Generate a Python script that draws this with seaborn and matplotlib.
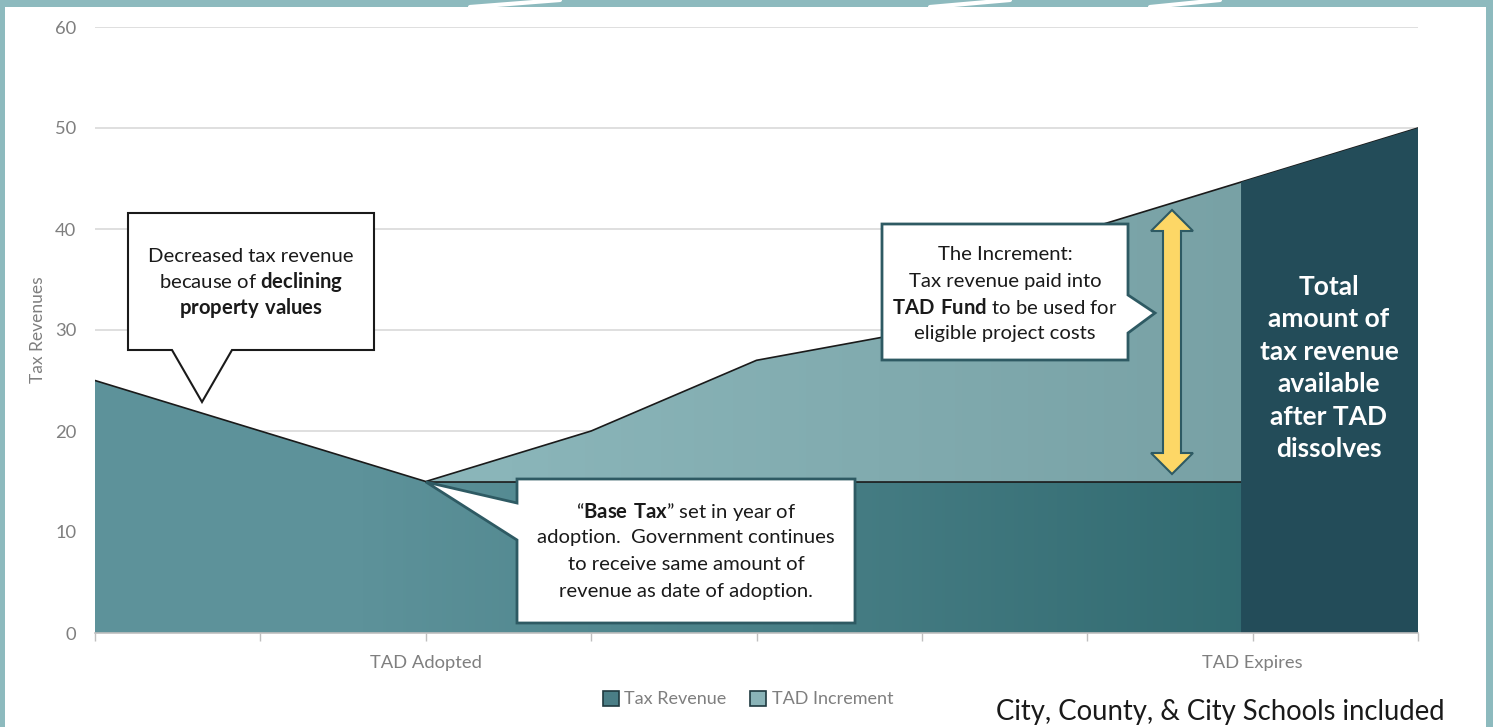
import numpy as np
import matplotlib
matplotlib.use("Agg")
import matplotlib.pyplot as plt
from matplotlib.patches import Polygon, Rectangle, Patch
from matplotlib.colors import LinearSegmentedColormap
import seaborn as sns

# ---------------- data ----------------
periods = list(range(9))
x_labels = ["", "", "TAD Adopted", "", "", "", "", "TAD Expires", ""]
tax_revenue = [25, 20, 15, 15, 15, 15, 15, 15, 15]
tad_increment = [0, 0, 0, 5, 12, 15, 25, 30, 35]
y_ticks = [0, 10, 20, 30, 40, 50, 60]
series_names = ["Tax Revenue", "TAD Increment"]
after_tad_start = 6.93  # where the "after TAD dissolves" column begins

# ---------------- style ----------------
sns.set_theme(style="white")
plt.rcParams["font.family"] = ["Lato", "DejaVu Sans"]
plt.rcParams["mathtext.fontset"] = "custom"
plt.rcParams["mathtext.rm"] = "Lato"
plt.rcParams["mathtext.bf"] = "Lato:bold"

W, H = 1493, 727
fig = plt.figure(figsize=(W / 100, H / 100), dpi=100)
fig.patch.set_facecolor("#8dbabe")

def fx(x):
    return x / W

def fy(y):
    return 1 - y / H

# white panel over teal frame
fig.patches.append(Rectangle((fx(5), 0), fx(1486) - fx(5), fy(7), transform=fig.transFigure,
                             facecolor="white", edgecolor="none", zorder=-3))
t = np.linspace(0, 1, 50)
for (x0, x1) in [(470, 560), (930, 1010), (1150, 1220)]:
    fig.add_artist(plt.Line2D(fx(x0 + (x1 - x0) * t), fy(7 * (1 - t)), transform=fig.transFigure,
                              color="white", lw=3, zorder=-2))

ax = fig.add_axes([fx(95), fy(633), fx(1418) - fx(95), fy(27) - fy(633)])
ax.set_facecolor("none")
ax.set_zorder(1)

x = np.array(periods, dtype=float)
base = np.array(tax_revenue, dtype=float)
total = base + np.array(tad_increment, dtype=float)

def gradient_fill(coll, c0, c1, x0, x1):
    verts = coll.get_paths()[0].vertices
    clip = Polygon(verts, closed=True, transform=ax.transData, facecolor="none", edgecolor="none")
    ax.add_patch(clip)
    cmap = LinearSegmentedColormap.from_list("g", [c0, c1])
    xs = np.linspace(0, 8, 400)
    grad = np.clip((xs - x0) / (x1 - x0), 0, 1)[None, :]
    im = ax.imshow(grad, extent=[0, 8, 0, 60], aspect="auto", cmap=cmap, vmin=0, vmax=1,
                   origin="lower", zorder=2)
    im.set_clip_path(clip)

p_base = ax.fill_between(x, 0, base, facecolor="none", edgecolor="none", zorder=2)
gradient_fill(p_base, "#5d929a", "#30696f", 1.6, 7.2)
p_inc = ax.fill_between(x, base, total, facecolor="none", edgecolor="none", zorder=2)
gradient_fill(p_inc, "#8ab5b9", "#78a1a5", 2.5, 7.0)

# outline lines
sns.lineplot(x=x, y=total, ax=ax, color="#1a1a1a", lw=1.2, zorder=3)
sns.lineplot(x=x[2:], y=base[2:], ax=ax, color="#1a1a1a", lw=1.2, zorder=3)

# column: total available after TAD dissolves
xs_col = np.linspace(after_tad_start, 8, 50)
ax.fill_between(xs_col, 0, np.interp(xs_col, x, total), facecolor="#234c59", edgecolor="none", zorder=4)

ax.set_xlim(0, 8)
ax.set_ylim(0, 60)
ax.set_yticks(y_ticks)
ax.set_xticks(periods)
ax.set_xticklabels(x_labels)
ax.grid(axis="y", color="#d9d9d9", lw=1.2, zorder=0)
ax.set_axisbelow(True)
for s in ["top", "right", "left"]:
    ax.spines[s].set_visible(False)
ax.spines["bottom"].set_color("#bfbfbf")
ax.spines["bottom"].set_linewidth(1.2)
ax.spines["bottom"].set_zorder(5)
ax.tick_params(axis="x", which="both", bottom=True, length=6, width=1, color="#bfbfbf",
               labelsize=13.2, labelcolor="#7f7f7f", pad=10)
ax.tick_params(axis="y", left=False, length=0, labelsize=13.2, labelcolor="#7f7f7f", pad=13.5)
ax.set_ylabel("")
fig.text(fx(38), fy(330), "Tax Revenues", rotation=90, ha="center", va="center",
         fontsize=12.5, color="#7f7f7f")

# ---------------- callouts ----------------
def callout(pts, edge, lw):
    poly = Polygon([(fx(a), fy(b)) for a, b in pts], closed=True, transform=fig.transFigure,
                   facecolor="white", edgecolor=edge, lw=lw, zorder=10, joinstyle="miter")
    fig.add_artist(poly)

def lines(cx, ys, texts, size=14.6, color="#1a1a1a", weight="normal"):
    for yy, tx in zip(ys, texts):
        fig.text(fx(cx), fy(yy), tx, ha="center", va="center", fontsize=size, color=color,
                 weight=weight, zorder=11)

callout([(128, 213), (374, 213), (374, 350), (232, 350), (202, 402), (172, 350), (128, 350)],
        "#1a1a1a", 1.5)
lines(251, [256, 282, 308], ["Decreased tax revenue",
                             r"because of $\bf{declining}$",
                             r"$\bf{property\ values}$"])

callout([(882, 224), (1128, 224), (1128, 295), (1155, 313), (1128, 333), (1128, 360), (882, 360)],
        "#2e5a63", 2)
lines(1005, [254, 281, 307, 333], ["The Increment:",
                                   "Tax revenue paid into",
                                   r"$\bf{TAD\ Fund}$ to be used for",
                                   "eligible project costs"])

callout([(517, 479), (855, 479), (855, 623), (517, 623), (517, 540), (426, 482), (517, 503)],
        "#2e5a63", 2)
lines(686, [512, 538, 565, 592], [r"“$\bf{Base\ Tax}$” set in year of",
                                  "adoption.  Government continues",
                                  "to receive same amount of",
                                  "revenue as date of adoption."])

arrow = [(1172, 210), (1193, 231), (1181, 231), (1181, 453), (1193, 453), (1172, 474),
         (1151, 453), (1163, 453), (1163, 231), (1151, 231)]
fig.add_artist(Polygon([(fx(a), fy(b)) for a, b in arrow], closed=True, transform=fig.transFigure,
                       facecolor="#fdd766", edgecolor="#2e5a63", lw=1.5, zorder=10))

lines(1329, [287, 319, 352, 384, 417, 449],
      ["Total", "amount of", "tax revenue", "available", "after TAD", "dissolves"],
      size=19, color="white", weight="bold")

handles = [Patch(facecolor="#4a7e86", edgecolor="#1f3a40", lw=1.2),
           Patch(facecolor="#8ab4b8", edgecolor="#1f3a40", lw=1.2)]
fig.legend(handles, series_names, loc="center", bbox_to_anchor=(fx(748), fy(699)), ncol=2,
           frameon=False, fontsize=13, handlelength=0.9, handleheight=0.9, handletextpad=0.3,
           columnspacing=1.3, labelcolor="#7f7f7f")

fig.text(fx(1445), fy(712), "City, County, & City Schools included", ha="right", va="center",
         fontsize=19.8, color="#1a1a1a")

fig.savefig("out.png", dpi=100, facecolor=fig.get_facecolor())
